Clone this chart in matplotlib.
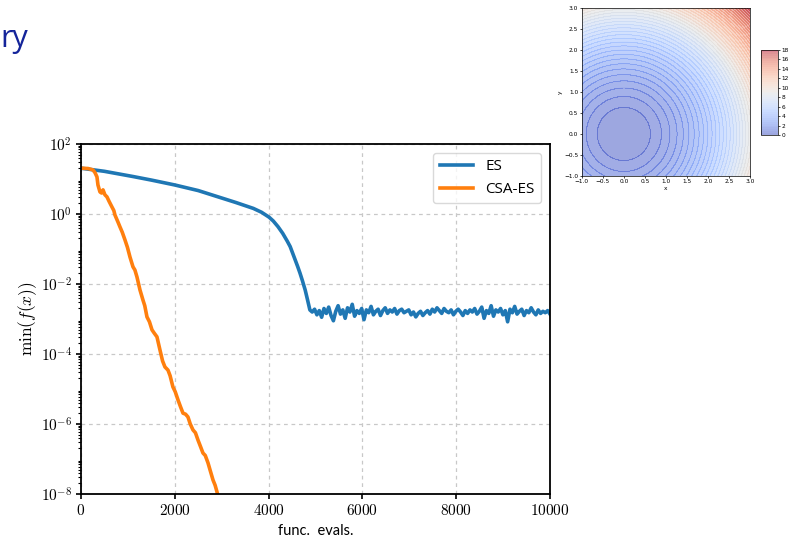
import matplotlib

matplotlib.use("Agg")
import matplotlib.pyplot as plt
import numpy as np
from matplotlib.ticker import FuncFormatter, LogLocator, NullFormatter

plt.rcParams["mathtext.fontset"] = "cm"

# --- ES run: smooth descent (evals, log10 f) ---
es_head_x = [0, 500, 1115, 1500, 2000, 2500, 2900, 3300, 3675, 3850, 4010, 4100,
             4200, 4300, 4400, 4460, 4550, 4620, 4670, 4720, 4780, 4830, 4880]
es_head_log = [1.31, 1.22, 1.07, 0.97, 0.83, 0.67, 0.50, 0.33, 0.16, 0.05, -0.09, -0.20,
               -0.36, -0.55, -0.78, -0.93, -1.25, -1.50, -1.69, -1.90, -2.17, -2.45, -2.74]
# noisy plateau, 4930 .. 10000 evals
es_tail_log = [
    -2.80, -2.72, -2.88, -2.76, -2.95, -2.70, -2.84, -2.66, -2.90, -3.05,
    -2.78, -2.62, -2.86, -2.74, -2.98, -2.68, -2.80, -2.58, -2.92, -2.76,
    -2.84, -2.70, -3.02, -2.74, -2.82, -2.64, -2.88, -2.78, -2.72, -2.90,
    -2.76, -2.68, -2.84, -2.74, -2.80, -2.70, -2.86, -2.76, -2.72, -2.82,
    -2.78, -2.74, -2.88, -2.80, -2.94, -2.84, -2.78, -2.90, -2.82, -2.76,
    -2.86, -2.72, -2.80, -2.68, -2.76, -2.84, -2.70, -2.78, -2.82, -2.74,
    -2.88, -2.78, -2.72, -2.80, -2.90, -2.76, -2.84, -2.74, -2.80, -2.70,
    -2.86, -2.78, -2.66, -2.98, -2.76, -2.84, -2.62, -2.92, -2.74, -2.80,
    -2.70, -2.88, -2.76, -3.08, -2.72, -2.82, -2.64, -2.86, -2.78, -2.72,
    -2.90, -2.76, -2.82, -2.68, -2.80, -2.88, -2.74, -2.84, -2.78, -2.82,
    -2.76, -2.86,
]
es_tail_start, es_tail_end = 4930, 10000

# --- CSA-ES run (evals, log10 f) ---
csa_x = [0, 150, 256, 300, 341, 362, 405, 440, 470, 510, 554, 600, 661, 700, 725,
         789, 832, 880, 938, 990, 1045, 1109, 1150, 1194, 1258, 1322, 1360, 1407,
         1460, 1514, 1560, 1620, 1685, 1740, 1790, 1855, 1900, 1960, 2010, 2068,
         2120, 2175, 2230, 2281, 2330, 2388, 2440, 2495, 2550, 2601, 2650, 2708,
         2760, 2815, 2860, 2900, 2930]
csa_log = [1.31, 1.30, 1.26, 1.18, 1.06, 0.83, 0.63, 0.60, 0.69, 0.55, 0.49, 0.36,
           0.20, 0.10, -0.03, -0.23, -0.37, -0.52, -0.74, -0.95, -1.23, -1.51,
           -1.60, -1.80, -2.17, -2.46, -2.62, -2.94, -3.08, -3.31, -3.40, -3.51,
           -3.89, -4.20, -4.37, -4.46, -4.62, -4.94, -5.08, -5.31, -5.50, -5.69,
           -5.72, -5.80, -6.00, -6.17, -6.25, -6.46, -6.65, -6.83, -6.90, -7.11,
           -7.35, -7.60, -7.75, -7.94, -8.10]

# inset surface
grid_lim = (-1.0, 3.0)
cbar_ticks = list(range(0, 19, 2))

fig = plt.figure(figsize=(7.97, 5.38), dpi=100)

fig.text(0.001, 1 - 47 / 538, "ry", fontsize=22, color="#14249a",
         family="Open Sans", va="baseline", ha="left")

ax = fig.add_axes([0.1016, 0.0818, 0.5885, 0.6505])
es_x = np.concatenate([es_head_x, np.linspace(es_tail_start, es_tail_end, len(es_tail_log))])
es_y = 10.0 ** np.concatenate([es_head_log, es_tail_log])
ax.plot(es_x, es_y, color="#1f77b4", lw=2.6, label="ES")
ax.plot(csa_x, 10.0 ** np.array(csa_log), color="#ff7f0e", lw=2.6, label="CSA-ES")
ax.set_yscale("log")
ax.set_xlim(0, 10000)
ax.set_ylim(1e-8, 1e2)
ax.set_xticks([0, 2000, 4000, 6000, 8000, 10000])
ax.set_yticks([1e-8, 1e-6, 1e-4, 1e-2, 1e0, 1e2])
ax.yaxis.set_minor_locator(LogLocator(base=10, subs=np.arange(2, 10), numticks=20))
ax.yaxis.set_minor_formatter(NullFormatter())
ax.xaxis.set_major_formatter(FuncFormatter(lambda v, _: rf"${int(v)}$"))
ax.yaxis.set_major_formatter(FuncFormatter(lambda v, _: rf"$10^{{{int(round(np.log10(v)))}}}$"))
ax.tick_params(axis="both", which="major", labelsize=11, length=3.5, width=1.2, pad=3)
ax.tick_params(axis="y", which="minor", length=2.5, width=0.8)
ax.grid(True, which="major", ls=(0, (3, 3)), color="#c8c8c8", lw=0.9)
for s in ax.spines.values():
    s.set_linewidth(1.3)
ax.set_xlabel("func.  evals.", family="Lato", fontsize=10.5, labelpad=4)
ax.set_ylabel(r"$\min(f(x))$", fontsize=12.5, labelpad=1)
leg = ax.legend(loc="upper right", prop={"family": "Open Sans", "size": 11},
                handlelength=2.2, borderaxespad=0.6, framealpha=0.8)
leg.get_frame().set_edgecolor("#d0d0d0")

# inset: contour of f(x, y) = x^2 + y^2
axi = fig.add_axes([0.730, 0.673, 0.211, 0.312])
g = np.linspace(grid_lim[0], grid_lim[1], 200)
X, Y = np.meshgrid(g, g)
Z = X ** 2 + Y ** 2
levels = np.linspace(0, 18, 46)
cf = axi.contourf(X, Y, Z, levels=levels, cmap="coolwarm", alpha=0.5)
axi.contour(X, Y, Z, levels=levels, cmap="coolwarm", alpha=0.3, linewidths=0.4)
axi.set_xticks(np.arange(-1.0, 3.01, 0.5))
axi.set_yticks(np.arange(-1.0, 3.01, 0.5))
axi.tick_params(labelsize=4.2, length=1.5, width=0.5, pad=1)
axi.set_xlabel("x", fontsize=4.2, labelpad=1)
axi.set_ylabel("y", fontsize=4.2, labelpad=1)
for s in axi.spines.values():
    s.set_linewidth(0.5)
cax = fig.add_axes([0.955, 0.749, 0.021, 0.158])
cb = fig.colorbar(cf, cax=cax, ticks=cbar_ticks)
cb.ax.tick_params(labelsize=4.2, length=1.5, width=0.5, pad=1)
cb.outline.set_linewidth(0.5)

fig.savefig("out.png", dpi=100)
